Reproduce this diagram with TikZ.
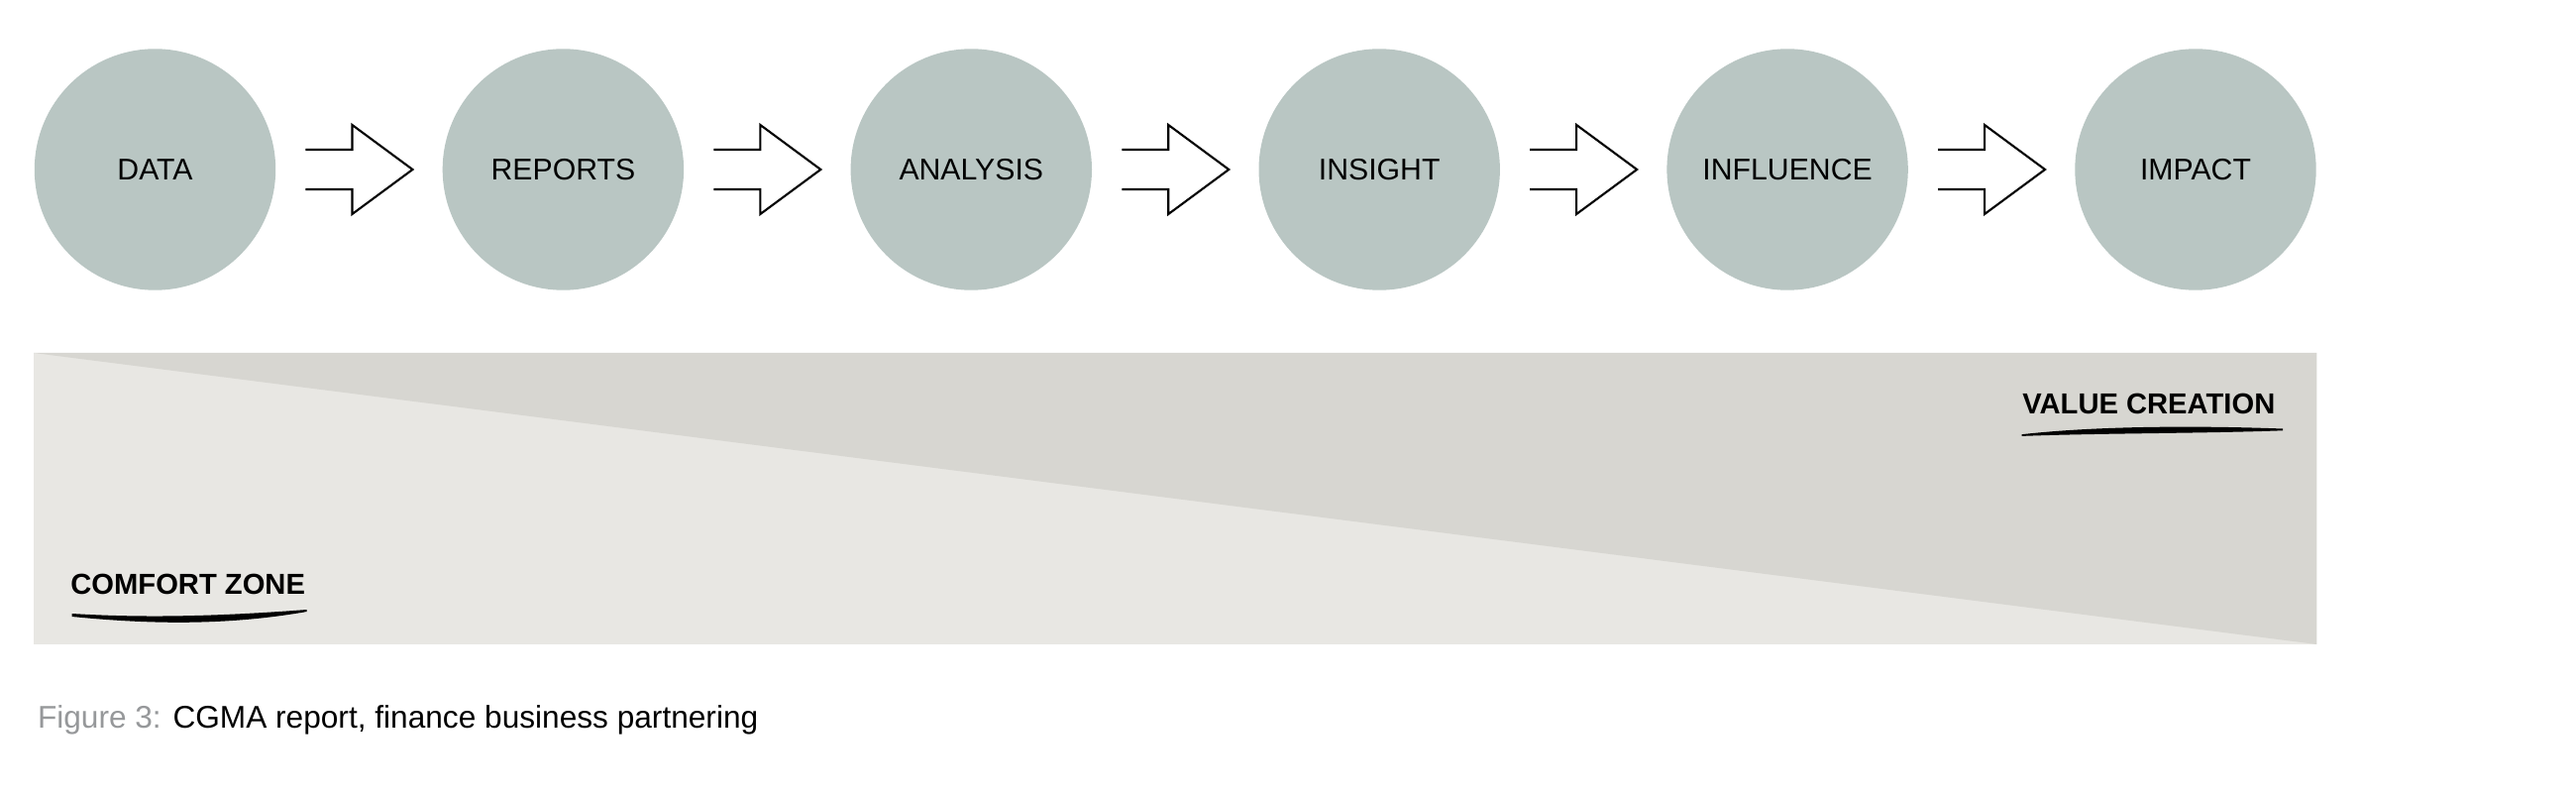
\documentclass[tikz,border=0pt]{standalone}
\usepackage{fontspec}
\setmainfont{Liberation Sans}
\usepackage{xcolor}
\usepackage{tikz}
\usetikzlibrary{positioning,calc}
\definecolor{sage}{RGB}{185,198,195}
\definecolor{paleband}{RGB}{232,231,227}
\definecolor{darkband}{RGB}{215,214,209}
\definecolor{figgray}{RGB}{150,152,154}
\tikzset{
  stage/.style={circle,fill=sage,inner sep=0pt,minimum size=2.434cm,
    font=\fontsize{8.6}{10}\selectfont},
  hollow/.style={draw,line width=0.6pt,miter limit=10,
    to path={($(\tikztostart)!.5!(\tikztotarget)+(-.54,.2)$) -- ++(.47,0) -- ++(0,.25)
      -- ++(.61,-.45) -- ++(-.61,-.45) -- ++(0,.25) -- ++(-.47,0)}},
  chain/.style={every edge/.style={hollow}},
  zone/.style={inner sep=0pt,font=\fontsize{8.3}{10}\selectfont\bfseries},
  caption/.style={inner sep=0pt,font=\fontsize{9}{11}\selectfont},
  flow/.style={node distance=4.119cm}
}

\begin{document}
\begin{tikzpicture}[flow]
      \useasboundingbox (0,0) rectangle (26,8.05);
      \node[stage] (0) at (1.565,6.34) {DATA};
      \node[stage] (1) [right of=0] {REPORTS};
      \node[stage] (2) [right of=1] {ANALYSIS};
      \node[stage] (3) [right of=2] {INSIGHT};
      \node[stage] (4) [right of=3] {INFLUENCE};
      \node[stage] (5) [right of=4] {IMPACT};
      \path[chain]
      (0) edge (1)
      (1) edge (2)
      (2) edge (3)
      (3) edge (4)
      (4) edge (5)
      ;
      % band under the stages
      \coordinate (bnw) at ($(0.west)+(0,-1.85)$);
      \coordinate (bse) at ($(5.east)+(0,-4.79)$);
      \fill[paleband] (bnw) rectangle (bse);
      \fill[darkband] (bnw) -- (bse |- bnw) -- (bse) -- cycle;
      \node[zone,anchor=base west] (cz) at (0.707,2.05) {COMFORT ZONE};
      \node[zone,anchor=base east] (vc) at (22.97,3.873) {VALUE CREATION};
      \fill ($(cz.base west)+(0.02,-0.19)$) .. controls +(0.8,-0.05) and +(-0.8,-0.06) .. ($(cz.base east)+(0.01,-0.15)$)
        -- ($(cz.base east)+(0.01,-0.17)$) .. controls +(-0.8,-0.14) and +(0.8,-0.08) .. ($(cz.base west)+(0.02,-0.22)$) -- cycle;
      \fill ($(vc.base west)+(0,-0.205)$) .. controls +(0.8,0.09) and +(-0.8,0.03) .. ($(vc.base east)+(0.07,-0.148)$)
        -- ($(vc.base east)+(0.07,-0.166)$) .. controls +(-0.8,-0.03) and +(0.8,0.03) .. ($(vc.base west)+(0,-0.222)$) -- cycle;
      \node[caption,anchor=base west] (fig) at (0.373,0.707) {\textcolor{figgray}{Figure 3:} CGMA report, finance business partnering};
    \end{tikzpicture}
\end{document}
